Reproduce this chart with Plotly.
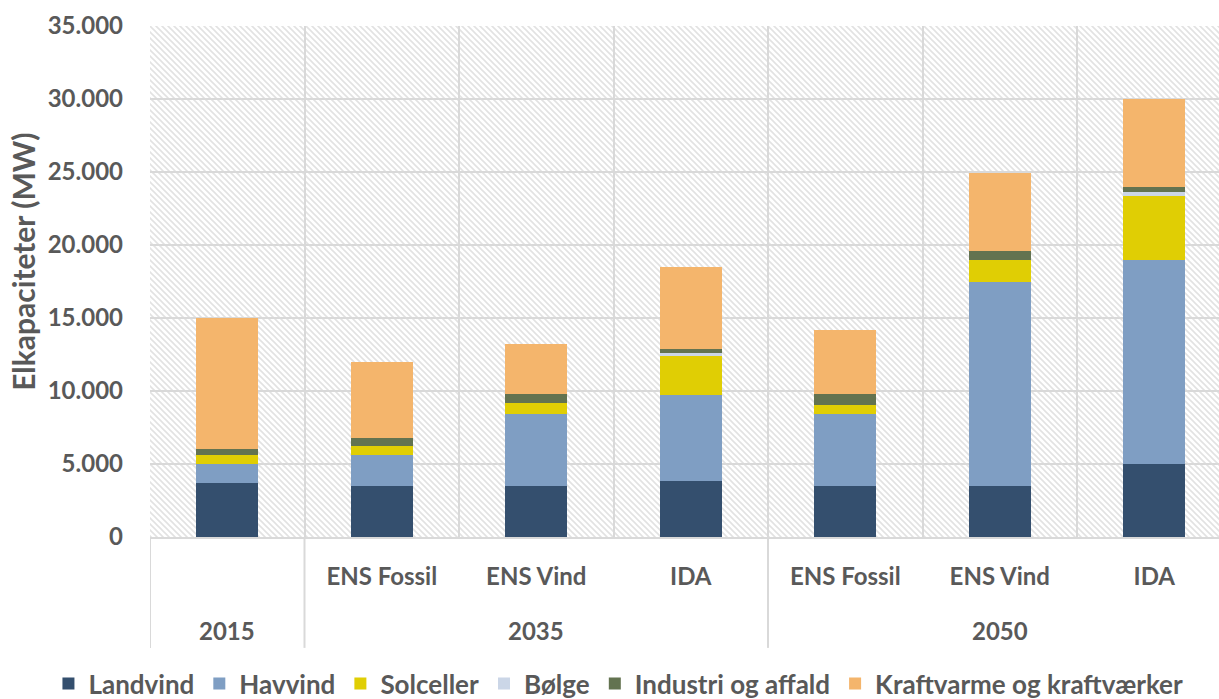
import plotly.graph_objects as go
import base64

# ---- data ----
scenarios = ["", "ENS Fossil", "ENS Vind", "IDA", "ENS Fossil", "ENS Vind", "IDA"]
years = ["2015", "2035", "2035", "2035", "2050", "2050", "2050"]

landvind = [3700, 3500, 3500, 3850, 3500, 3500, 5000]
havvind = [1300, 2100, 4950, 5850, 4950, 14000, 14000]
solceller = [600, 600, 750, 2700, 600, 1500, 4350]
boelge = [0, 0, 0, 200, 0, 0, 250]
industri = [400, 600, 600, 300, 750, 600, 400]
kraftvarme = [9000, 5200, 3400, 5600, 4400, 5300, 6000]

series_names = ["Landvind", "Havvind", "Solceller", "Bølge", "Industri og affald", "Kraftvarme og kraftværker"]
series_values = [landvind, havvind, solceller, boelge, industri, kraftvarme]
series_colors = ["#344F6E", "#7F9EC3", "#E0CE04", "#CBD6E7", "#637350", "#F4B56C"]

y_title = "Elkapaciteter (MW)"

FONT = "Lato, sans-serif"
TXT = "#595959"
GRID = "#d9d9d9"


def f(size):
    return dict(family=FONT, size=size, color=TXT, weight="bold")


xpos = list(range(len(scenarios)))

fig = go.Figure()
for name, vals, col in zip(series_names, series_values, series_colors):
    fig.add_trace(go.Bar(x=xpos, y=vals, name=name, marker_color=col,
                         marker_line_width=0))

# group labels & dividers
groups = []
for i, yv in enumerate(years):
    if not groups or groups[-1][0] != yv:
        groups.append([yv, i, i])
    else:
        groups[-1][2] = i

annotations = []
shapes = []
for yv, a, b in groups:
    annotations.append(dict(x=(a + b) / 2, y=-0.182, xref="x", yref="paper",
                            text=yv, showarrow=False, yanchor="middle", font=f(24)))
    shapes.append(dict(type="line", xref="x", yref="paper", x0=a - 0.5, x1=a - 0.5,
                       y0=0, y1=-0.217, line=dict(color=GRID, width=2)))

annotations.append(dict(x=-0.119, y=0.538, xref="paper", yref="paper", text=y_title,
                        textangle=-90, showarrow=False, xanchor="center", yanchor="middle",
                        font=f(30)))

# hatched background
svg = ('<svg xmlns="http://www.w3.org/2000/svg" width="1069" height="511">'
       '<defs><pattern id="p" patternUnits="userSpaceOnUse" width="6" height="6">'
       '<path d="M-1,5 l2,2 M0,0 l6,6 M5,-1 l2,2" stroke="#e2e2e2" stroke-width="1.6"/>'
       '</pattern></defs><rect width="100%" height="100%" fill="white"/>'
       '<rect width="100%" height="100%" fill="url(#p)"/></svg>')
uri = "data:image/svg+xml;base64," + base64.b64encode(svg.encode()).decode()

fig.update_layout(
    barmode="stack",
    bargap=0.6,
    width=1219, height=699,
    margin=dict(l=150, r=0, t=26, b=162, autoexpand=False),
    paper_bgcolor="white",
    plot_bgcolor="rgba(0,0,0,0)",
    separators=",.",
    font=f(24),
    showlegend=True,
    legend=dict(orientation="h", xref="paper", x=-0.095, xanchor="left",
                y=-0.287, yanchor="middle", font=f(26),
                traceorder="normal", itemclick=False),
    annotations=annotations,
    shapes=shapes,
    images=[dict(source=uri, xref="paper", yref="paper", x=0, y=1, sizex=1, sizey=1,
                 xanchor="left", yanchor="top", sizing="stretch", layer="below")],
)

fig.update_xaxes(range=[-0.5, 6.419], tickvals=xpos, ticktext=scenarios,
                 showgrid=False, zeroline=False, showline=True, linecolor=GRID, linewidth=2,
                 ticks="", ticklabelstandoff=17, tickfont=f(24),
                 minor=dict(tickvals=[i - 0.5 for i in xpos] + [len(xpos) - 0.5],
                            showgrid=True, gridcolor=GRID, gridwidth=2, ticks=""))
fig.update_yaxes(range=[0, 35000], dtick=5000, tickformat=",d",
                 showgrid=True, gridcolor=GRID, gridwidth=2,
                 zeroline=False, ticks="", ticklabelstandoff=26, tickfont=f(24))

fig.write_html("out.html", config={"displayModeBar": False},
               post_script="document.body.style.margin='0';")
